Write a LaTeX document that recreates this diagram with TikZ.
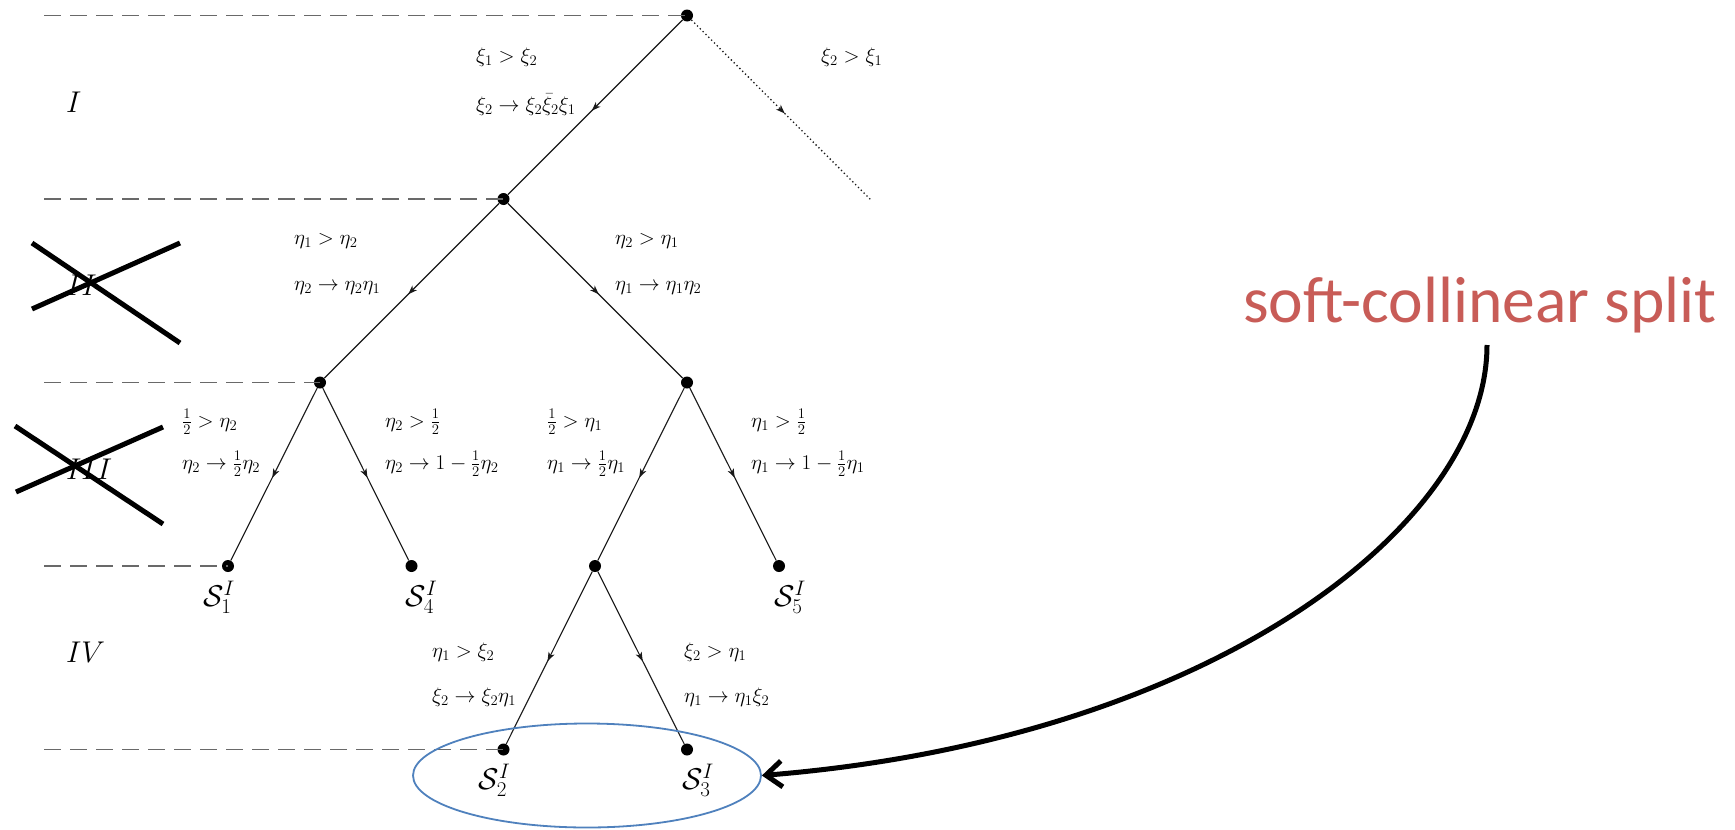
\RequirePackage{fix-cm}
\documentclass[tikz,border=0pt]{standalone}
\usepackage{fontspec}
\newfontfamily\calfont{Carlito}
\usetikzlibrary{arrows.meta,decorations.markings,shapes.geometric}
\definecolor{ellblue}{RGB}{79,129,189}
\definecolor{softred}{RGB}{200,92,87}
\definecolor{dashgray}{RGB}{105,105,105}
\begin{document}
\begin{tikzpicture}[x=1pt,y=-1pt,
  dot/.style={circle,fill=black,inner sep=0pt,minimum size=12pt},
  midarrow/.style={postaction={decorate},decoration={markings,mark=at position 0.52 with {\arrow{Stealth[length=9pt,width=6.5pt,inset=2.5pt]}}}},
  edge/.style={line width=1.1pt,black!90,midarrow},
  dotedge/.style={line width=1.3pt,black!90,dash pattern=on 1.3pt off 2.7pt,midarrow},
  lbl/.style={anchor=base west,inner sep=0pt,font=\fontsize{21}{24}\selectfont},
  roman/.style={anchor=base west,inner sep=0pt,font=\fontsize{30}{36}\selectfont},
  slabel/.style={anchor=base,inner sep=0pt,font=\fontsize{30}{36}\selectfont},
  lvl/.style={dashgray,line width=1.8pt,dash pattern=on 17pt off 9pt},
  cross/.style={line width=5pt,black},
  hlbox/.style={draw=ellblue,line width=1.8pt,ellipse,minimum width=348pt,minimum height=104pt,inner sep=0pt},
  bigarrow/.style={line width=5pt,black,-{Straight Barb[length=16pt,width=26pt]}}
]
\useasboundingbox[fill=white] (0,0) rectangle (1735,830);

% tree nodes
\node[dot] (n0) at (687,15.5) {};
\node[dot] (n1) at (503.5,199) {};
\coordinate (dend) at (871,200);
\node[dot] (n2) at (320,382.5) {};
\node[dot] (n3) at (687,382.5) {};
\node[dot] (n4) at (228,566) {};
\node[dot] (n5) at (411.5,566) {};
\node[dot] (n6) at (595,566) {};
\node[dot] (n7) at (779,566) {};
\node[dot] (n8) at (503.5,749.5) {};
\node[dot] (n9) at (687,749.5) {};

% level lines
\coordinate (l1) at (44,15.5);
\coordinate (l2) at (44,199);
\coordinate (l3) at (44,382.5);
\coordinate (l4) at (44,566);
\coordinate (l5) at (44,749.5);
\draw[lvl] (l1) -- (n0.center);
\draw[lvl] (l2) -- (n1.center);
\draw[lvl] (l3) -- (n2.center);
\draw[lvl] (l4) -- (n4.center);
\draw[lvl] (l5) -- (n8.center);

% edges
\draw[edge] (n0) -- (n1);
\draw[dotedge] (n0) -- (dend);
\draw[edge] (n1) -- (n2);
\draw[edge] (n1) -- (n3);
\draw[edge] (n2) -- (n4);
\draw[edge] (n2) -- (n5);
\draw[edge] (n3) -- (n6);
\draw[edge] (n3) -- (n7);
\draw[edge] (n6) -- (n8);
\draw[edge] (n6) -- (n9);

% edge labels
\node[lbl] (a1) at (476,62.5) {$\xi_1 > \xi_2$};
\node[lbl] (a2) at (476,111) {$\xi_2 \to \xi_2\bar{\xi}_2\xi_1$};
\node[lbl] (b1) at (821,62.5) {$\xi_2 > \xi_1$};
\node[lbl] (c1) at (294,244) {$\eta_1 > \eta_2$};
\node[lbl] (c2) at (294,290) {$\eta_2 \to \eta_2\eta_1$};
\node[lbl] (d1) at (615,244) {$\eta_2 > \eta_1$};
\node[lbl] (d2) at (615,290) {$\eta_1 \to \eta_1\eta_2$};
\node[lbl] (e1) at (182,427) {$\frac{1}{2} > \eta_2$};
\node[lbl] (e2) at (182,469) {$\eta_2 \to \frac{1}{2}\eta_2$};
\node[lbl] (f1) at (385,427) {$\eta_2 > \frac{1}{2}$};
\node[lbl] (f2) at (385,469) {$\eta_2 \to 1-\frac{1}{2}\eta_2$};
\node[lbl] (g1) at (547,427) {$\frac{1}{2} > \eta_1$};
\node[lbl] (g2) at (547,469) {$\eta_1 \to \frac{1}{2}\eta_1$};
\node[lbl] (h1) at (751,427) {$\eta_1 > \frac{1}{2}$};
\node[lbl] (h2) at (751,469) {$\eta_1 \to 1-\frac{1}{2}\eta_1$};
\node[lbl] (k1) at (432,657) {$\eta_1 > \xi_2$};
\node[lbl] (k2) at (432,702) {$\xi_2 \to \xi_2\eta_1$};
\node[lbl] (m1) at (684,657) {$\xi_2 > \eta_1$};
\node[lbl] (m2) at (684,702) {$\eta_1 \to \eta_1\xi_2$};

% leaf labels
\node[slabel] (s1) at ([xshift=-9pt,yshift=-40pt]n4.center) {$\mathcal{S}_1^I$};
\node[slabel] (s4) at ([xshift=10pt,yshift=-40pt]n5.center) {$\mathcal{S}_4^I$};
\node[slabel] (s5) at ([xshift=11pt,yshift=-40pt]n7.center) {$\mathcal{S}_5^I$};
\node[slabel] (s2) at ([xshift=-9pt,yshift=-40pt]n8.center) {$\mathcal{S}_2^I$};
\node[slabel] (s3) at ([xshift=11pt,yshift=-40pt]n9.center) {$\mathcal{S}_3^I$};

% region labels
\node[roman] (rI) at (66,112) {$I$};
\node[roman] (rII) at (66,295) {$II$};
\node[roman] (rIII) at (66,479) {$III$};
\node[roman] (rIV) at (66,662) {$IV$};

% crosses
\draw[cross] (32,243) -- (180,343);
\draw[cross] (32,309) -- (180,243);
\draw[cross] (15,426) -- (163,524);
\draw[cross] (16,492) -- (163,427);

% highlight and annotation
\node[hlbox] (hl) at (587,775.5) {};
\node[anchor=base west,inner sep=0pt,text=softred,font=\calfont\fontsize{65.5}{72}\selectfont] (sc) at (1243,322) {soft-collinear split};
\coordinate (arrS) at (1487,345);
\draw[bigarrow] (arrS) .. controls (1487,525) and (1212,739) .. (hl.east);
\end{tikzpicture}
\end{document}
